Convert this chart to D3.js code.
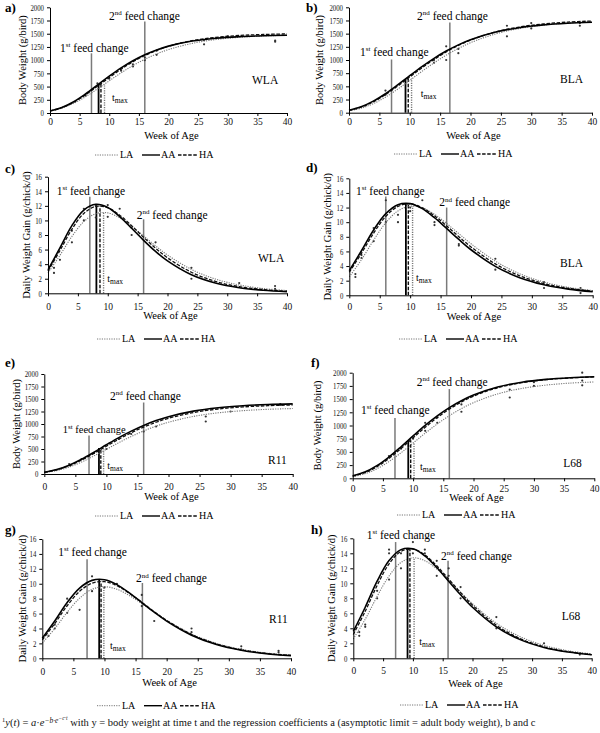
<!DOCTYPE html>
<html><head><meta charset="utf-8">
<script src="https://cdn.jsdelivr.net/npm/d3@7"></script>
<style>
body{margin:0;background:#fff;}
svg{display:block;font-family:"Liberation Serif","Times New Roman",serif;}
.axis path,.axis line{stroke:#000;stroke-width:1;}
.axis text{fill:#111;}
</style></head>
<body><svg id="chart" width="600" height="733"></svg>
<script>
const WEEKS = [0,2,4,6,8,10,12,14,16,18,20,24,28,32,36,40];
const X_TICKS = [0,5,10,15,20,25,30,35,40];
const BW_TICKS = [0,250,500,750,1000,1250,1500,1750,2000];
const GAIN_TICKS = [0,2,4,6,8,10,12,14,16];

// WLA
const bwWLA_AA = [39.6,105,214,361,528,697,854,990,1103,1194,1265,1361,1415,1445,1461,1470];
const bwWLA_HA = [38.5,100,203,343,505,671,829,970,1088,1185,1263,1369,1431,1467,1486,1497];
const bwWLA_LA = [37.2,92.5,184,308,455,609,760,897,1017,1118,1200,1318,1390,1432,1457,1471];
const gainWLA_AA = [3.22,6.24,9.29,11.42,12.21,11.77,10.53,8.93,7.27,5.74,4.45,2.55,1.42,0.77,0.42,0.22];
const gainWLA_HA = [3.05,5.86,8.79,10.96,11.93,11.74,10.72,9.27,7.69,6.19,4.87,2.89,1.65,0.92,0.51,0.28];
const gainWLA_LA = [2.78,5.21,7.80,9.84,10.93,11.04,10.36,9.22,7.87,6.51,5.26,3.28,1.96,1.15,0.66,0.38];
// BLA
const bwBLA_AA = [47.5,113,219,360,526,702,874,1032,1170,1287,1384,1525,1613,1666,1697,1715];
const bwBLA_HA = [44.6,106,206,342,504,678,850,1010,1153,1275,1378,1529,1625,1684,1719,1740];
const bwBLA_LA = [34.2,85.4,172,295,446,613,784,946,1092,1220,1328,1491,1596,1661,1701,1725];
const gainBLA_AA = [3.37,6.09,8.93,11.17,12.39,12.54,11.85,10.61,9.14,7.64,6.23,3.96,2.41,1.44,0.84,0.49];
const gainBLA_HA = [3.15,5.74,8.51,10.80,12.15,12.49,11.97,10.88,9.49,8.02,6.62,4.29,2.67,1.61,0.96,0.57];
const gainBLA_LA = [2.54,4.87,7.54,9.93,11.54,12.18,11.95,11.07,9.82,8.43,7.05,4.67,2.95,1.81,1.09,0.65];
// R11
const bwR11_AA = [35.8,89,177,296,436,584,728,858,972,1068,1146,1258,1326,1366,1389,1402];
const bwR11_HA = [32.9,82.3,165,277,412,555,696,825,939,1035,1115,1229,1300,1342,1366,1381];
const bwR11_LA = [26.7,68.2,139,239,362,494,627,752,862,957,1035,1151,1224,1267,1294,1309];
const gainR11_AA = [2.68,5.00,7.48,9.42,10.45,10.54,9.88,8.77,7.48,6.18,4.99,3.10,1.85,1.08,0.62,0.36];
const gainR11_HA = [2.47,4.66,7.05,8.98,10.08,10.27,9.73,8.72,7.50,6.25,5.08,3.20,1.93,1.14,0.66,0.38];
const gainR11_LA = [2.05,3.98,6.17,8.06,9.25,9.60,9.26,8.42,7.34,6.19,5.09,3.27,2.00,1.20,0.71,0.41];
// L68
const bwL68_AA = [46.7,118,239,403,597,802,1001,1182,1339,1469,1576,1728,1820,1873,1904,1922];
const bwL68_HA = [40.2,105,217,375,564,767,966,1150,1310,1445,1556,1715,1811,1868,1901,1920];
const bwL68_LA = [32.6,86.2,180,316,483,668,854,1029,1186,1320,1433,1598,1702,1765,1803,1825];
const gainL68_AA = [3.58,6.81,10.28,13.03,14.49,14.60,13.66,12.10,10.28,8.47,6.81,4.20,2.49,1.44,0.83,0.47];
const gainL68_HA = [3.18,6.27,9.72,12.59,14.25,14.56,13.79,12.33,10.56,8.76,7.09,4.41,2.63,1.53,0.88,0.50];
const gainL68_LA = [2.59,5.20,8.26,10.98,12.77,13.40,13.02,11.91,10.42,8.82,7.27,4.68,2.88,1.72,1.01,0.59];

// feed changes [week, line top]
const feedA = [[7,1130],[16,1730]];
const feedB = [[7,1010],[16.6,1710]];
const feedC = [[7,13.25],[16,10.15]];
const feedD = [[6,13.5],[16,12.0]];
const feedE = [[7.2,770],[16,1430]];
const feedF = [[7,1140],[16,1690]];
const feedG = [[7.2,13.3],[16.1,10.1]];
const feedH = [[7.1,15.5],[15.9,13.0]];

// t_max [AA, HA, LA] weeks and heights
const tmaxWA = [8.2,8.6,9.2],  tmaxHA_ = [544,555,548];
const tmaxWB = [9.3,9.75,10.3], tmaxHB = [640,651,647];
const tmaxWC = [8.1,8.7,9.3],  tmaxHC = [12.2,12.0,11.1];
const tmaxWD = [9.3,9.7,10.4], tmaxHD = [12.6,12.5,12.2];
const tmaxWE = [8.8,9.1,9.55], tmaxHE = [522,515,489];
const tmaxWF = [9.2,9.6,10.15], tmaxHF = [715,715,682];
const tmaxWG = [9.15,9.45,9.9], tmaxHG = [10.6,10.3,9.6];
const tmaxWH = [9.1,9.5,10.2], tmaxHH = [14.7,14.6,13.4];

// observations [week, value]
const obsA = [[6,350],[6,330],[8,560],[10,650],[12,800],[14,920],[14,880],[16,1050],[16,1000],[18,1100],[18,1180],[26,1300],[26,1380],[30,1450],[38,1350],[38,1370]];
const obsB = [[6,420],[6,340],[9,600],[14,950],[14,1000],[16,1000],[16,1260],[18,1130],[18,1210],[26,1450],[26,1650],[30,1600],[30,1700],[38,1650],[38,1700]];
const obsC = [[1,3.5],[1,2.8],[2,4.6],[4,7.0],[4,8.6],[6,10],[6,11.6],[8,10.4],[8,12],[10,10.5],[10,12.1],[12,11.6],[14,8],[14,9],[18,7],[24,2],[24,3.5],[32,1.4],[38,1],[38,0.6]];
const obsD = [[1,2.5],[1,2.9],[2,5.1],[2,5.5],[4,7.4],[4,9.2],[6,10],[6,13],[8,10],[8,11],[10,11.5],[10,12],[12,13],[14,10],[14,9.6],[18,7],[18,6.8],[24,5],[24,3.5],[32,1],[32,1.8],[38,1],[38,0.3]];
const obsE = [[4,200],[6,300],[8,420],[10,500],[12,700],[14,800],[16,850],[18,950],[26,1050],[26,1150],[30,1250],[38,1400],[38,1380]];
const obsF = [[6,420],[8,560],[10,750],[12,900],[12,1050],[14,1050],[14,1150],[18,1260],[18,1400],[26,1530],[26,1680],[30,1750],[30,1820],[38,1760],[38,1850],[38,2000]];
const obsG = [[1,3],[2,4],[2,4.5],[4,6.1],[4,8],[6,6.5],[8,9],[8,11],[10,9.5],[12,10],[16,7],[16,8.5],[18,5],[24,3.5],[24,4],[32,1.2],[32,1.6],[38,1],[38,0.8]];
const obsH = [[1,3],[1,3.5],[2,4.5],[2,4.2],[4,8],[4,9],[6,10.5],[6,14],[6,14.5],[8,12],[8,14],[10,14],[10,15.5],[12,14],[12,14.5],[14,11],[14,13],[16,11],[16,12],[18,8],[18,9.5],[24,4],[24,5.5],[32,2],[38,0.5]];

const PANELS = [
 {id:'a', kind:'bw',   breed:'WLA', AA:bwWLA_AA, HA:bwWLA_HA, LA:bwWLA_LA, feed:feedA, tw:tmaxWA, th:tmaxHA_, obs:obsA},
 {id:'b', kind:'bw',   breed:'BLA', AA:bwBLA_AA, HA:bwBLA_HA, LA:bwBLA_LA, feed:feedB, tw:tmaxWB, th:tmaxHB, obs:obsB},
 {id:'c', kind:'gain', breed:'WLA', AA:gainWLA_AA, HA:gainWLA_HA, LA:gainWLA_LA, feed:feedC, tw:tmaxWC, th:tmaxHC, obs:obsC},
 {id:'d', kind:'gain', breed:'BLA', AA:gainBLA_AA, HA:gainBLA_HA, LA:gainBLA_LA, feed:feedD, tw:tmaxWD, th:tmaxHD, obs:obsD},
 {id:'e', kind:'bw',   breed:'R11', AA:bwR11_AA, HA:bwR11_HA, LA:bwR11_LA, feed:feedE, tw:tmaxWE, th:tmaxHE, obs:obsE},
 {id:'f', kind:'bw',   breed:'L68', AA:bwL68_AA, HA:bwL68_HA, LA:bwL68_LA, feed:feedF, tw:tmaxWF, th:tmaxHF, obs:obsF},
 {id:'g', kind:'gain', breed:'R11', AA:gainR11_AA, HA:gainR11_HA, LA:gainR11_LA, feed:feedG, tw:tmaxWG, th:tmaxHG, obs:obsG},
 {id:'h', kind:'gain', breed:'L68', AA:gainL68_AA, HA:gainL68_HA, LA:gainL68_LA, feed:feedH, tw:tmaxWH, th:tmaxHH, obs:obsH}
];

// layout (pixels)
const LAYOUT = [
 {x0:50, x1:287, yb:113, yt:7.3, xpad:2.5, xtitleY:135, legX:95, legY:155, ylabX:22, letter:[5,12], feed1:[60,48], feed2:[109,16], tmax:[112,99], breed:[252,80], fs1:11.5},
 {x0:349, x1:592, yb:112.7, yt:7.3, xpad:2.5, xtitleY:135, legX:394, legY:154, ylabX:319, letter:[306,12], feed1:[360,52], feed2:[417,16], tmax:[420.7,95], breed:[560,79], fs1:11.5},
 {x0:48, x1:287, yb:293.3, yt:176.7, xpad:6.5, xtitleY:315.7, legX:97, legY:339, ylabX:26, letter:[5,173], feed1:[56.7,190.7], feed2:[136.7,215], tmax:[107.3,280], breed:[258,258], fs1:11.5},
 {x0:349.3, x1:592.7, yb:295.3, yt:178.3, xpad:5, xtitleY:316.7, legX:399, legY:339, ylabX:327, letter:[306,172], feed1:[356,190.7], feed2:[439.3,202.3], tmax:[416,279.3], breed:[560,263.3], fs1:11.5},
 {x0:44.3, x1:292.7, yb:474, yt:374, xpad:6.5, xtitleY:496.7, legX:95, legY:516, ylabX:16, letter:[5,367], feed1:[62.7,429.3], feed2:[110,396], tmax:[107.3,466.7], breed:[268,460], fs1:10.5},
 {x0:352.7, x1:594.3, yb:478.3, yt:372.7, xpad:3.5, xtitleY:497.7, legX:397, legY:515, ylabX:317, letter:[311,367], feed1:[361,410], feed2:[416.7,381.7], tmax:[420,468.3], breed:[563.3,463.3], fs1:11.5},
 {x0:42.3, x1:291, yb:658.3, yt:539, xpad:6.5, xtitleY:682.3, legX:97, legY:705.7, ylabX:22, letter:[5,534], feed1:[58.3,551.7], feed2:[136,578.3], tmax:[110,647.3], breed:[269,619], fs1:11.5},
 {x0:353.3, x1:591.7, yb:658.3, yt:538.3, xpad:5.5, xtitleY:683.3, legX:400, legY:705, ylabX:331, letter:[311,534], feed1:[366.7,535], feed2:[441,556], tmax:[419.3,643.3], breed:[561.7,616], fs1:11.5}
];

const STYLE = {
  AA:{stroke:'#000', width:1.6, dash:null},
  HA:{stroke:'#111', width:1.3, dash:'3.5,1.6'},
  LA:{stroke:'#777', width:1.1, dash:'1.2,1.2'}
};
const FEED_COLOR = '#7a7a7a';

const svg = d3.select('#chart');

function drawPanel(p, L) {
  const g = svg.append('g');
  const x = d3.scaleLinear().domain([0,40]).range([L.x0, L.x1]);
  const ymax = p.kind === 'bw' ? 2000 : 16;
  const y = d3.scaleLinear().domain([0, ymax]).range([L.yb, L.yt]);

  p.feed.forEach(f => {
    g.append('line').attr('x1', x(f[0])).attr('x2', x(f[0]))
      .attr('y1', y(0)).attr('y2', y(f[1]))
      .attr('stroke', FEED_COLOR).attr('stroke-width', 1.5);
  });
  ['AA','HA','LA'].forEach((s,i) => {
    const st = STYLE[s];
    g.append('line').attr('x1', x(p.tw[i])).attr('x2', x(p.tw[i]))
      .attr('y1', y(0)).attr('y2', y(p.th[i]))
      .attr('stroke', st.stroke).attr('stroke-width', s==='AA'?1.8:1.4)
      .attr('stroke-dasharray', st.dash);
  });

  g.selectAll('circle.obs').data(p.obs).enter().append('circle')
    .attr('cx', d => x(d[0])).attr('cy', d => y(d[1]))
    .attr('r', 1.1).attr('fill', '#333');

  const line = d3.line().x((d,i) => x(WEEKS[i])).y(d => y(d)).curve(d3.curveCatmullRom.alpha(0.5));
  ['LA','HA','AA'].forEach(s => {
    const st = STYLE[s];
    g.append('path').attr('d', line(p[s])).attr('fill','none')
      .attr('stroke', st.stroke).attr('stroke-width', st.width)
      .attr('stroke-dasharray', st.dash);
  });

  const xa = g.append('g').attr('class','axis').attr('transform', `translate(0,${L.yb})`)
    .call(d3.axisBottom(x).tickValues(X_TICKS).tickFormat(d3.format('d')).tickSize(3).tickSizeOuter(0).tickPadding(L.xpad));
  xa.selectAll('text').attr('font-size', 9.5).attr('font-family','"Liberation Serif",serif');
  const ya = g.append('g').attr('class','axis').attr('transform', `translate(${L.x0},0)`)
    .call(d3.axisLeft(y).tickValues(p.kind==='bw'?BW_TICKS:GAIN_TICKS).tickFormat(d3.format('d')).tickSize(3).tickSizeOuter(0).tickPadding(3));
  ya.selectAll('text').attr('font-size', 8.5).attr('font-family','"Liberation Serif",serif')
    .attr('textLength', d => String(d).length * 3.4).attr('lengthAdjust','spacingAndGlyphs');

  g.append('text').attr('x', (L.x0+L.x1)/2 + 3).attr('y', L.xtitleY + 3.5)
    .attr('text-anchor','middle').attr('font-size', 10.5).text('Week of Age');
  const ycen = (L.yb + L.yt) / 2;
  g.append('text').attr('transform', `translate(${L.ylabX + 3.5},${ycen}) rotate(-90)`)
    .attr('text-anchor','middle').attr('font-size', 10.5)
    .text(p.kind==='bw' ? 'Body Weight (g/bird)' : 'Daily Weight Gain (g/chick/d)');

  g.append('text').attr('x', L.letter[0]).attr('y', L.letter[1]).attr('font-size', 13)
    .attr('font-weight','bold').text(p.id + ')');

  const feedLabel = (pos, num, sup, fs) => {
    const t = g.append('text').attr('x', pos[0]).attr('y', pos[1] + 3.8).attr('font-size', fs);
    t.append('tspan').text(num);
    t.append('tspan').attr('font-size', 7).attr('dy', -4.5).text(sup);
    t.append('tspan').attr('dy', 4.5).text(' feed change');
  };
  feedLabel(L.feed1, '1', 'st', L.fs1);
  feedLabel(L.feed2, '2', 'nd', 11.5);

  const tm = g.append('text').attr('x', L.tmax[0]).attr('y', L.tmax[1] + 2).attr('font-size', 10);
  tm.append('tspan').text('t');
  tm.append('tspan').attr('font-size', 7.5).attr('dy', 2).text('max');

  g.append('text').attr('x', L.breed[0]).attr('y', L.breed[1] + 4).attr('font-size', 11.5).text(p.breed);

  const lg = g.append('g').attr('transform', `translate(${L.legX},${L.legY})`);
  const items = [['LA',0,23,25],['AA',47,65,66],['HA',83,103,104]];
  items.forEach(it => {
    const st = STYLE[it[0]];
    lg.append('line').attr('x1', it[1]).attr('x2', it[2]).attr('y1', 0).attr('y2', 0)
      .attr('stroke', st.stroke).attr('stroke-width', it[0]==='LA'?1:1.4)
      .attr('stroke-dasharray', st.dash);
    lg.append('text').attr('x', it[3]).attr('y', 3.4).attr('font-size', 10).text(it[0]);
  });
}

PANELS.forEach((p,i) => drawPanel(p, LAYOUT[i]));

const fn = svg.append('text').attr('x', 2).attr('y', 726).attr('font-size', 10.5).attr('fill','#111');
fn.append('tspan').attr('font-size', 6.5).attr('dy', -4).text('1');
fn.append('tspan').attr('dy', 4).attr('font-style','italic').text('y');
fn.append('tspan').text('(');
fn.append('tspan').attr('font-style','italic').text('t');
fn.append('tspan').text(') = ');
fn.append('tspan').attr('font-style','italic').text('a');
fn.append('tspan').text('·');
fn.append('tspan').attr('font-style','italic').text('e');
fn.append('tspan').attr('font-size', 7.5).attr('dy', -3.5).attr('font-style','italic').text('−b·e');
fn.append('tspan').attr('font-size', 5.5).attr('dy', -2.5).attr('font-style','italic').text('−c·t');
fn.append('tspan').attr('dy', 6).text(' with y = body weight at time t and the regression coefficients a (asymptotic limit = adult body weight), b and c');
</script></body></html>
